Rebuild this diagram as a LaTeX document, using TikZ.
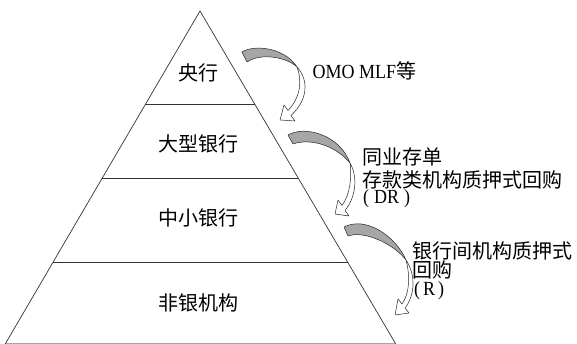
\documentclass[tikz,border=0pt]{standalone}
\usepackage{fontspec}
\newfontfamily\cjk{Noto Sans CJK SC}
\newfontfamily\lat[FakeStretch=0.9]{Liberation Serif}
\begin{document}
\begin{tikzpicture}[x=1pt,y=-1pt,
  edge/.style={draw=black!80, line width=0.7pt},
  lbl/.style={font=\cjk\fontsize{20}{20}\selectfont, inner sep=0pt},
  note/.style={lbl, anchor=base west, text height=12pt, text depth=2pt},
  blocknote/.style={font=\cjk\fontsize{20}{16}\selectfont, inner sep=0pt, anchor=base west, align=left},
  bandgray/.style={fill=gray!70, draw=black!85, line width=0.5pt, line join=round},
  bandwhite/.style={fill=white, draw=black!85, line width=0.5pt, line join=round}]
\useasboundingbox (0,0) rectangle (577,344);
% pyramid
\coordinate (apex) at (200,11);
\coordinate (bl) at (1.7,350);
\coordinate (br) at (399.3,350);
\coordinate (b0l) at (5.8,343);
\coordinate (b0r) at (395.2,343);
\coordinate (l1) at (145.3,104.5);
\coordinate (r1) at (255,104.5);
\coordinate (l2) at (102.3,178);
\coordinate (r2) at (298.2,178);
\coordinate (l3) at (52.9,262.5);
\coordinate (r3) at (347.9,262.5);
\draw[edge] (bl) -- (apex) -- (br);
\draw[edge] (l1) -- (r1);
\draw[edge] (l2) -- (r2);
\draw[edge] (l3) -- (r3);
\draw[draw=black!35, line width=0.5pt] (b0l) -- (b0r);
% arrow 1
\draw[bandgray] (242,52) .. controls (255,44) and (285,48) .. (297,67)
  .. controls (288,58) and (262,52) .. (247,62) -- cycle;
\draw[bandwhite] (297,67) .. controls (309,80) and (308,100) .. (291,115.5)
  -- (295,121) -- (280,120) -- (284,105) -- (288,110.5)
  .. controls (301,97) and (302,80) .. (297,67) -- cycle;
% arrow 2
\draw[bandgray] (288,135) .. controls (305,125) and (340,135) .. (350,163)
  .. controls (335,145) and (310,138) .. (293,144) -- cycle;
\draw[bandwhite] (350,163) .. controls (358,177) and (356,197) .. (345,210.5)
  -- (349,216) -- (335,214) -- (338,200) -- (342,205.5)
  .. controls (350,195) and (352,177) .. (350,163) -- cycle;
% arrow 3
\draw[bandgray] (344,227) .. controls (365,216) and (395,235) .. (406,260)
  .. controls (395,245) and (365,230) .. (348,236) -- cycle;
\draw[bandwhite] (406,260) .. controls (416,275) and (415,295) .. (405,308)
  -- (409,313) -- (395,315) -- (398,299) -- (402,304)
  .. controls (410,293) and (410,275) .. (406,260) -- cycle;
% labels
\node[lbl] (cb) at (198.5,73) {央行};
\node[lbl] (big) at (198.5,144) {大型银行};
\node[lbl] (small) at (198.5,218) {中小银行};
\node[lbl] (nonbank) at (198.5,303) {非银机构};
% notes
\node[note] (n1) at (312.5,79) {{\lat OMO MLF}等};
\node[note] (n2a) at (362,164.2) {同业存单};
\node[note] (n2b) at (362,187.2) {存款类机构质押式回购};
\node[note] (n2c) at (363,204) {\lat(\hspace{5pt}DR\hspace{5pt})};
\node[blocknote] (n3) at (412,295) {银行间机构质押式\\回购\\[1.5pt]\hspace{2pt}{\lat(\hspace{3pt}R\hspace{3pt})}};
\end{tikzpicture}
\end{document}
